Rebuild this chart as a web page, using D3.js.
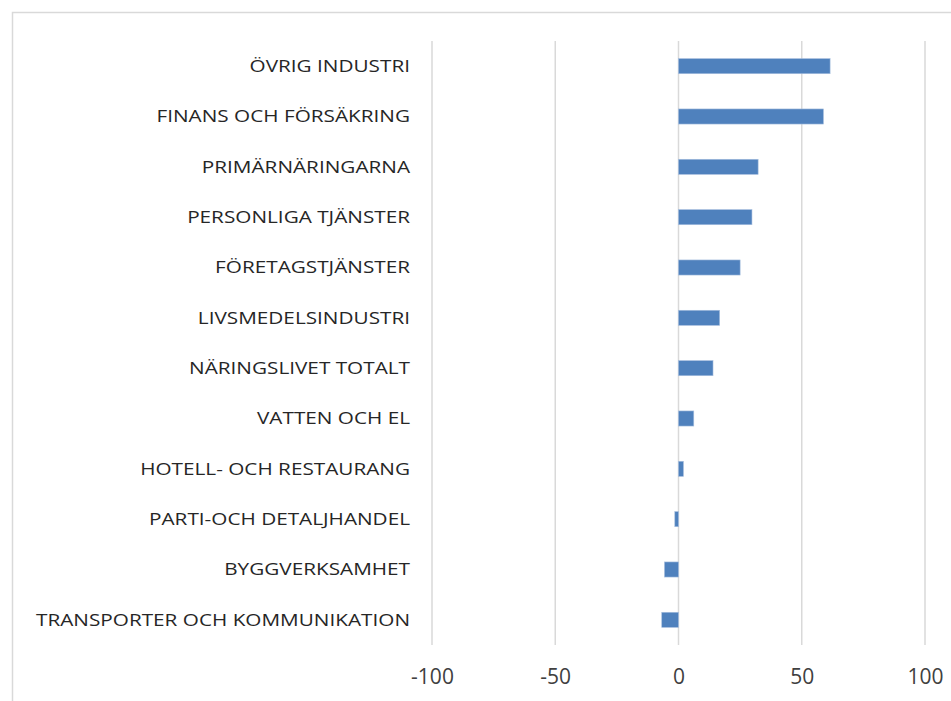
<!DOCTYPE html>
<html>
<head>
<meta charset="utf-8">
<script src="https://cdn.jsdelivr.net/npm/d3@7"></script>
<style>
  body { margin: 0; background: #fff; }
  svg { display: block; }
</style>
</head>
<body>
<svg id="chart" width="951" height="701"></svg>
<script>
const categories = [
  "ÖVRIG INDUSTRI",
  "FINANS OCH FÖRSÄKRING",
  "PRIMÄRNÄRINGARNA",
  "PERSONLIGA TJÄNSTER",
  "FÖRETAGSTJÄNSTER",
  "LIVSMEDELSINDUSTRI",
  "NÄRINGSLIVET TOTALT",
  "VATTEN OCH EL",
  "HOTELL- OCH RESTAURANG",
  "PARTI-OCH DETALJHANDEL",
  "BYGGVERKSAMHET",
  "TRANSPORTER OCH KOMMUNIKATION"
];
const values = [61.5, 58.8, 32.3, 29.8, 25.0, 16.7, 14.0, 6.2, 2.0, -1.5, -5.7, -6.8];
const tickValues = [-100, -50, 0, 50, 100];

const FONT = "'Open Sans', Lato, sans-serif";
const svg = d3.select("#chart");

// chart frame
svg.append("rect")
  .attr("x", 12.5).attr("y", 12.5)
  .attr("width", 960).attr("height", 720)
  .attr("fill", "none")
  .attr("stroke", "#d9d9d9")
  .attr("stroke-width", 1.5);

const x = d3.scaleLinear().domain([-100, 100]).range([432, 925]);
const y = d3.scaleBand().domain(categories).range([41, 645]).paddingInner(0.7).paddingOuter(0.35);

// gridlines
svg.append("g")
  .selectAll("line")
  .data(tickValues)
  .join("line")
  .attr("x1", (d) => x(d)).attr("x2", (d) => x(d))
  .attr("y1", 41).attr("y2", 645)
  .attr("stroke", "#d9d9d9")
  .attr("stroke-width", 1.5);

// bars
svg.append("g")
  .selectAll("rect")
  .data(values)
  .join("rect")
  .attr("x", (d) => x(Math.min(0, d)))
  .attr("y", (d, i) => y(categories[i]))
  .attr("width", (d) => Math.abs(x(d) - x(0)))
  .attr("height", y.bandwidth())
  .attr("fill", "#4f81bd")
  .attr("stroke", "#a7bfde")
  .attr("stroke-width", 0.6);

// category labels, a bit stretched sideways like the original
svg.append("g")
  .selectAll("text")
  .data(categories)
  .join("text")
  .attr("transform", (d) => `translate(410,${y(d) + y.bandwidth() / 2}) scale(1.22,1)`)
  .attr("dy", "0.35em")
  .attr("text-anchor", "end")
  .style("font-family", FONT)
  .style("font-size", "17px")
  .style("fill", "#262626")
  .text((d) => d);

// x axis labels (plain hyphen for negatives, as in the original)
const xAxis = d3.axisBottom(x)
  .tickValues(tickValues)
  .tickFormat((d) => String(d))
  .tickSize(0)
  .tickPadding(0);
const gx = svg.append("g").attr("transform", "translate(0,669)").call(xAxis);
gx.select(".domain").remove();
gx.selectAll("text")
  .style("font-family", FONT)
  .style("font-size", "21px")
  .style("fill", "#404040");
</script>
</body>
</html>
